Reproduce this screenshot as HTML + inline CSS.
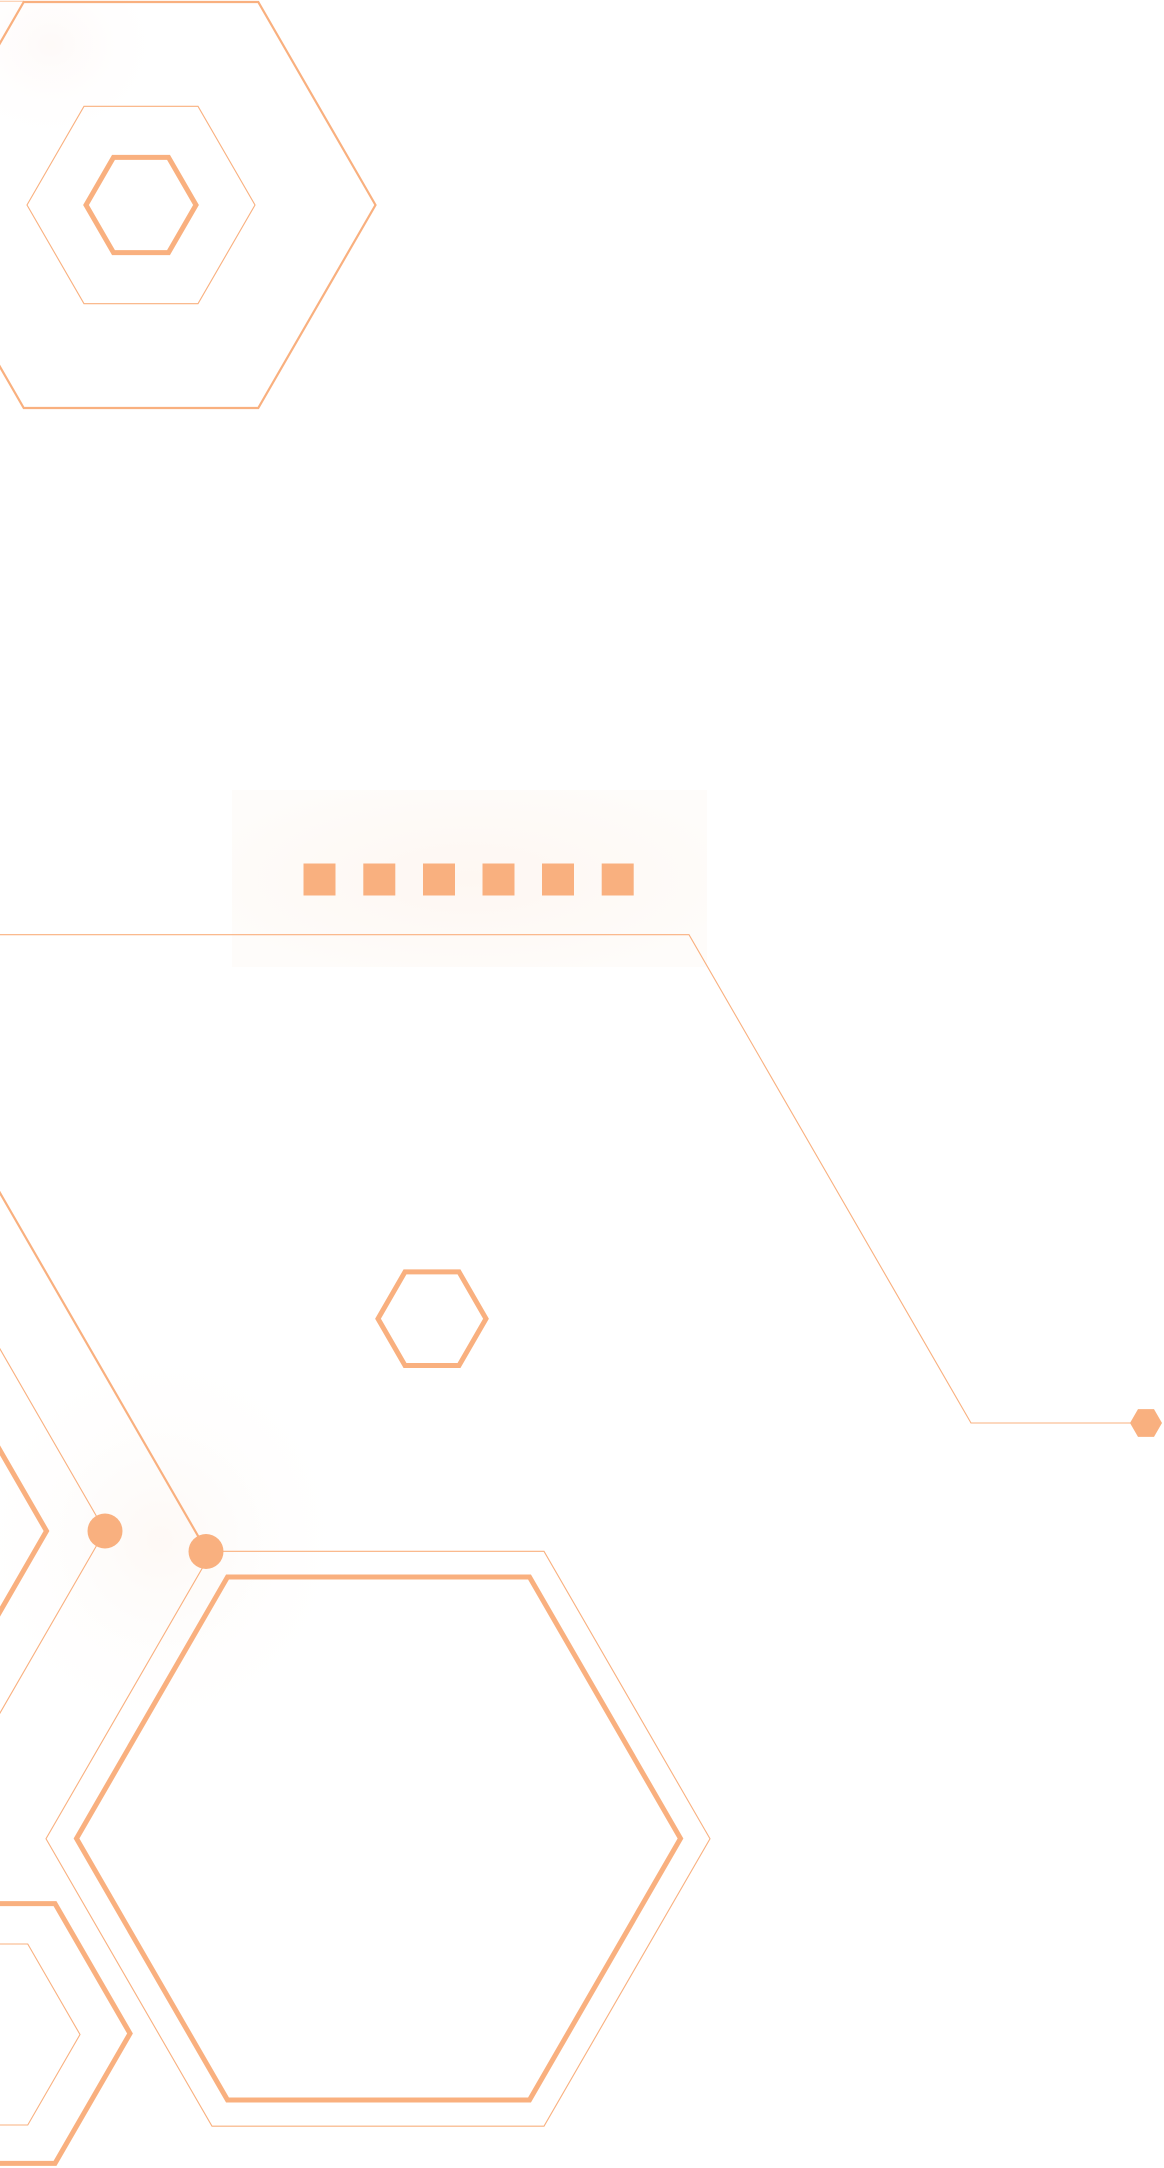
<!DOCTYPE html>
<html>
<head>
<meta charset="utf-8">
<style>
  html, body { margin:0; padding:0; background:#ffffff; }
  body { width:1164px; height:2168px; overflow:hidden; }
  svg { display:block; }
</style>
</head>
<body>
<svg width="1164" height="2168" viewBox="0 0 1164 2168" xmlns="http://www.w3.org/2000/svg">
  <defs>
    <radialGradient id="glowA" cx="50%" cy="50%" r="60%">
      <stop offset="0" stop-color="#FEF7F2"/>
      <stop offset="1" stop-color="#FEFCFA"/>
    </radialGradient>
    <radialGradient id="glowB" cx="50%" cy="50%" r="50%">
      <stop offset="0" stop-color="#FDF7F3" stop-opacity="0.8"/>
      <stop offset="1" stop-color="#FFFFFF" stop-opacity="0"/>
    </radialGradient>
    <radialGradient id="glowC" cx="30%" cy="30%" r="70%">
      <stop offset="0" stop-color="#FEF7F5" stop-opacity="0.7"/>
      <stop offset="1" stop-color="#FFFFFF" stop-opacity="0"/>
    </radialGradient>
  </defs>

  <rect x="0" y="0" width="1164" height="2168" fill="#ffffff"/>

  <!-- faint background glows -->
  <rect x="0" y="0" width="170" height="150" fill="url(#glowC)"/>
  <rect x="232" y="790" width="475" height="177" fill="url(#glowA)"/>
  <ellipse cx="160" cy="1540" rx="200" ry="210" fill="url(#glowB)"/>

  <g fill="none" stroke="#F9B07F" stroke-linejoin="miter">
    <!-- top-left hex group -->
    <polygon points="375.5,205 258.25,2 23.75,2 -93.5,205 23.75,408 258.25,408" stroke-width="2.2"/>
    <polygon points="255,205 198,106.3 84,106.3 27,205 84,303.7 198,303.7" stroke-width="1.1"/>
    <polygon points="196,205 168.5,157.4 113.5,157.4 86,205 113.5,252.6 168.5,252.6" stroke-width="5"/>
    <line x1="0" y1="1.2" x2="24" y2="1.2" stroke-width="1" stroke-opacity="0.7"/>

    <!-- long connector line -->
    <polyline points="-2,934.7 689,934.7 971,1423 1132,1423" stroke-width="1.1"/>

    <!-- small hex middle -->
    <polygon points="486,1318.7 459,1271.9 405,1271.9 378,1318.7 405,1365.5 459,1365.5" stroke-width="5"/>

    <!-- left chevrons -->
    <polyline points="-10,1331.7 105,1531 -10,1730.3" stroke-width="1.1"/>
    <polyline points="-10,1433.1 46.5,1531 -10,1628.9" stroke-width="5"/>

    <!-- line to circle 2 -->
    <line x1="-5" y1="1184.3" x2="207" y2="1551.5" stroke-width="2.2"/>

    <!-- big lower hexes -->
    <polygon points="710,1838.75 544,1551.3 212,1551.3 46,1838.75 212,2126.2 544,2126.2" stroke-width="1.1"/>
    <polygon points="680.5,1838.5 529.5,1577 227.5,1577 76.5,1838.5 227.5,2100 529.5,2100" stroke-width="5"/>

    <!-- bottom-left hexes -->
    <polygon points="130,2033.5 55,1903.6 -95,1903.6 -170,2033.5 -95,2163.4 55,2163.4" stroke-width="5"/>
    <polygon points="80,2034.5 27.75,1944 -76.75,1944 -129,2034.5 -76.75,2125 27.75,2125" stroke-width="1.1"/>
  </g>

  <!-- squares -->
  <g fill="#F9B07F">
    <rect x="303.5" y="863.5" width="32" height="32"/>
    <rect x="363.3" y="863.5" width="32" height="32"/>
    <rect x="423" y="863.5" width="32" height="32"/>
    <rect x="482.5" y="863.5" width="32" height="32"/>
    <rect x="542" y="863.5" width="32" height="32"/>
    <rect x="601.7" y="863.5" width="32" height="32"/>
  </g>

  <!-- filled small hex at right -->
  <polygon points="1162,1423 1154,1409.1 1138,1409.1 1130,1423 1138,1436.9 1154,1436.9" fill="#F9B07F"/>

  <!-- circles -->
  <circle cx="105" cy="1531" r="17.5" fill="#F9B07F"/>
  <circle cx="206" cy="1551.5" r="17.5" fill="#F9B07F"/>
</svg>
</body>
</html>
